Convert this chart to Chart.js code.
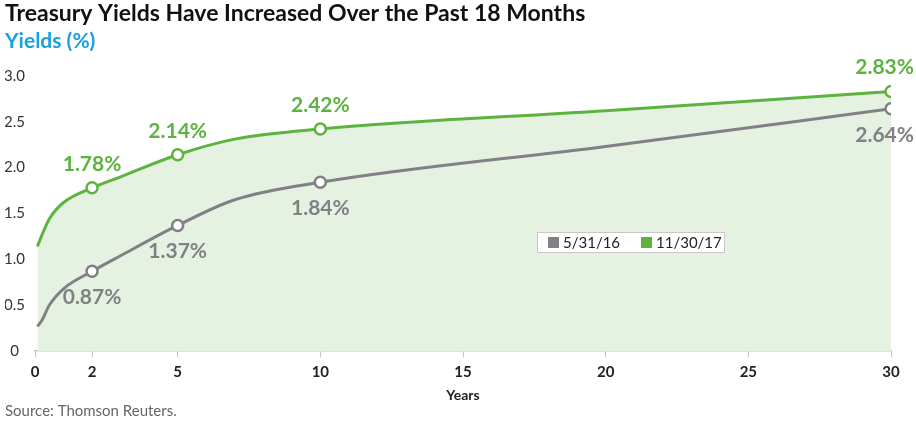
<!doctype html>
<html lang="en">
<head>
  <meta charset="utf-8">
  <title>Treasury Yields</title>
  <script src="https://cdn.jsdelivr.net/npm/chart.js"></script>
  <style>
    body { margin: 0; background: #fff; }
    #wrap { position: relative; width: 916px; height: 426px; }
  </style>
</head>
<body>
  <div id="wrap"><canvas id="yieldChart" width="916" height="426"></canvas></div>

  <script>
    // maturities in years (1mo, 3mo, 6mo, 1y, 2y, 3y, 5y, 7y, 10y, 20y, 30y)
    const maturities = [0.083, 0.25, 0.5, 1, 2, 3, 5, 7, 10, 20, 30];
    const yields2016 = [0.27, 0.34, 0.50, 0.68, 0.87, 1.04, 1.37, 1.65, 1.84, 2.23, 2.64];
    const yields2017 = [1.14, 1.27, 1.44, 1.62, 1.78, 1.90, 2.14, 2.31, 2.42, 2.62, 2.83];
    const seriesLabels = ['5/31/16', '11/30/17'];
    const markedMaturities = [2, 5, 10, 30];
    const xTicks = [0, 2, 5, 10, 15, 20, 25, 30];
    const yTicks = [0, 0.5, 1, 1.5, 2, 2.5, 3];

    const GRAY = '#808085';
    const GREEN = '#5db33f';
    const FONT = 'Lato, "Open Sans", sans-serif';

    const toPoints = vals => maturities.map((m, i) => ({ x: m, y: vals[i] }));
    const markerRadius = ctx => markedMaturities.includes(maturities[ctx.dataIndex]) ? 5.5 : 0;

    // value labels above (green) / below (gray) the marked points
    const valueLabels = {
      id: 'valueLabels',
      afterDatasetsDraw(chart) {
        const ctx = chart.ctx;
        ctx.save();
        ctx.font = 'bold 21px ' + FONT;
        ctx.textAlign = 'center';
        ctx.textBaseline = 'middle';
        chart.data.datasets.forEach((ds, di) => {
          const meta = chart.getDatasetMeta(di);
          meta.data.forEach((pt, i) => {
            if (!markedMaturities.includes(maturities[i])) return;
            const txt = ds.data[i].y.toFixed(2) + '%';
            const w = ctx.measureText(txt).width;
            const x = Math.min(pt.x, chart.width - w / 2 - 2);
            const y = pt.y + (ds.labelAbove ? -24 : 26);
            ctx.fillStyle = ds.borderColor;
            ctx.fillText(txt, x, y);
          });
        });
        ctx.restore();
      }
    };

    // boxed legend inside the plot + source line
    const extras = {
      id: 'extras',
      afterDraw(chart) {
        const ctx = chart.ctx;
        const area = chart.chartArea;
        ctx.save();
        const bx = area.left + 502, by = 232, bw = 187, bh = 20;
        ctx.fillStyle = '#fff';
        ctx.fillRect(bx, by, bw, bh);
        ctx.strokeStyle = '#c8c8c8';
        ctx.lineWidth = 1;
        ctx.strokeRect(bx + 0.5, by + 0.5, bw, bh);
        ctx.font = '15px ' + FONT;
        ctx.textBaseline = 'middle';
        let x = bx + 11;
        chart.data.datasets.forEach(ds => {
          ctx.fillStyle = ds.borderColor;
          ctx.fillRect(x, by + 5, 11, 11);
          ctx.fillStyle = '#222';
          ctx.fillText(ds.label, x + 15, by + 11);
          x += 93;
        });
        ctx.font = '15px ' + FONT;
        ctx.fillStyle = '#666';
        ctx.fillText('Source: Thomson Reuters.', 5, 411);
        ctx.restore();
      }
    };

    new Chart(document.getElementById('yieldChart'), {
      type: 'line',
      data: {
        datasets: [
          {
            label: seriesLabels[0],
            data: toPoints(yields2016),
            borderColor: GRAY,
            backgroundColor: GRAY,
            borderWidth: 3,
            cubicInterpolationMode: 'monotone',
            pointRadius: markerRadius,
            pointBackgroundColor: '#fff',
            pointBorderColor: GRAY,
            pointBorderWidth: 2.5,
            fill: false,
            labelAbove: false
          },
          {
            label: seriesLabels[1],
            data: toPoints(yields2017),
            borderColor: GREEN,
            backgroundColor: '#e5f2e1',
            borderWidth: 3,
            cubicInterpolationMode: 'monotone',
            pointRadius: markerRadius,
            pointBackgroundColor: '#fff',
            pointBorderColor: GREEN,
            pointBorderWidth: 2.5,
            fill: 'origin',
            labelAbove: true
          }
        ]
      },
      options: {
        responsive: false,
        animation: false,
        layout: { padding: { left: 5, right: 25, top: 0, bottom: 22 } },
        plugins: {
          legend: { display: false },
          tooltip: { enabled: false },
          title: {
            display: true,
            text: 'Treasury Yields Have Increased Over the Past 18 Months',
            align: 'start',
            color: '#111',
            font: { family: FONT, size: 23, weight: 'bold' },
            padding: { top: 0, bottom: 1 }
          },
          subtitle: {
            display: true,
            text: 'Yields (%)',
            align: 'start',
            color: '#1aa0de',
            font: { family: FONT, size: 21, weight: 'bold' },
            padding: { top: 0, bottom: 22 }
          }
        },
        scales: {
          x: {
            type: 'linear',
            min: 0,
            max: 30,
            afterBuildTicks: axis => { axis.ticks = xTicks.map(v => ({ value: v })); },
            grid: { display: true, drawOnChartArea: false, drawTicks: true, tickLength: 6, color: '#c4c4c4' },
            border: { display: true, color: '#c4c4c4', width: 1.5 },
            ticks: { color: '#222', font: { family: FONT, size: 15, weight: 'bold' }, padding: 6, maxRotation: 0 },
            title: { display: true, text: 'Years', color: '#222', font: { family: FONT, size: 14, weight: 'bold' }, padding: { top: 0, bottom: 0 } }
          },
          y: {
            min: 0,
            max: 3,
            afterBuildTicks: axis => { axis.ticks = yTicks.map(v => ({ value: v })); },
            afterFit: axis => { axis.width = 30; },
            grid: { display: false },
            border: { display: false },
            ticks: {
              color: '#333',
              font: { family: FONT, size: 15 },
              crossAlign: 'center',
              padding: 2,
              callback: v => v === 0 ? '0' : v.toFixed(1)
            }
          }
        }
      },
      plugins: [valueLabels, extras]
    });
  </script>
</body>
</html>
